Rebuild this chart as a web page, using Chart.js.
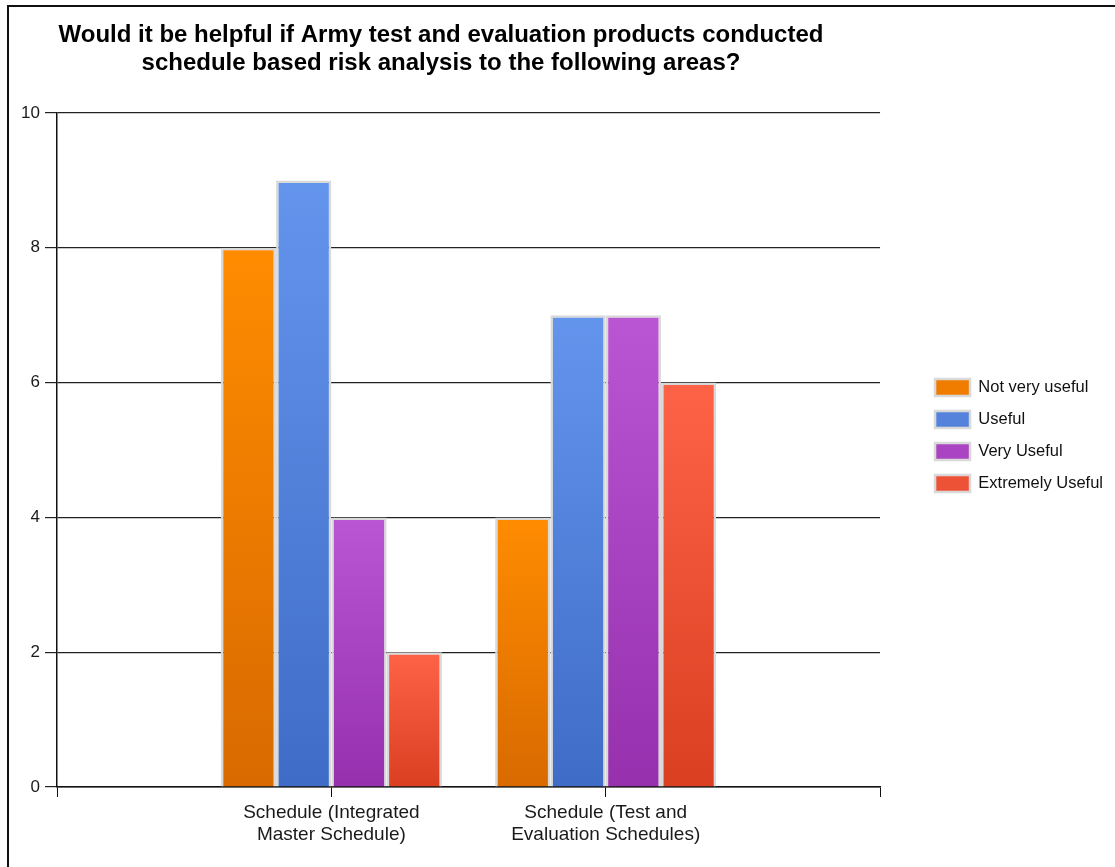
<!DOCTYPE html>
<html>
<head>
<meta charset="utf-8">
<script src="https://cdn.jsdelivr.net/npm/chart.js@4.4.1/dist/chart.umd.min.js"></script>
<style>
    html, body { margin: 0; padding: 0; background: #fff; }
    #wrap { width: 1115px; height: 867px; position: relative; }
</style>
</head>
<body>
<div id="wrap"><canvas id="usefulChart"></canvas></div>
<script>
const categories = [
    ['Schedule (Integrated', 'Master Schedule)'],
    ['Schedule (Test and', 'Evaluation Schedules)']
];
const seriesNames = ['Not very useful', 'Useful', 'Very Useful', 'Extremely Useful'];
const notVeryUseful = [8, 4];
const useful = [9, 7];
const veryUseful = [4, 7];
const extremelyUseful = [2, 6];
const titleLines = [
    'Would it be helpful if Army test and evaluation products conducted',
    'schedule based risk analysis to the following areas?'
];

// top / mid / bottom colour of each series (gradient per bar)
const seriesColors = [
    ['#ff8c00', '#f07c00', '#d86a00'],
    ['#6495ed', '#5583dc', '#3f6cc6'],
    ['#ba55d3', '#ab44c2', '#9630ad'],
    ['#ff6347', '#ee5236', '#da3f22']
];

const FONT = '"Liberation Sans", Arial, sans-serif';

// empty slot on each side so the two groups sit at 1/3 and 2/3 of the axis
const labels = [''].concat(categories, ['']);
const pad = arr => [null].concat(arr, [null]);

function barGradient(colors) {
    return ctx => {
        const chart = ctx.chart;
        if (ctx.raw == null || !chart.chartArea) return colors[1];
        const y = chart.scales.y;
        const top = y.getPixelForValue(ctx.raw);
        const bottom = y.getPixelForValue(0);
        const g = chart.ctx.createLinearGradient(0, top, 0, bottom);
        g.addColorStop(0, colors[0]);
        g.addColorStop(1, colors[2]);
        return g;
    };
}

const datasets = [notVeryUseful, useful, veryUseful, extremelyUseful].map((vals, i) => ({
    label: seriesNames[i],
    data: pad(vals),
    backgroundColor: barGradient(seriesColors[i]),
    borderColor: '#d9d9d9',
    borderWidth: 2.5,
    categoryPercentage: 0.806,
    barPercentage: 1
}));

// frame, title placement and legend gap like the original picture
const framePlugin = {
    id: 'frame',
    afterLayout(chart) {
        const t = chart.titleBlock;
        t.left = 8;
        t.right = 874;
        t.width = t.right - t.left;
        const lg = chart.legend;
        const dx = chart.chartArea.right + 40 - lg.left;
        lg.left += dx;
        lg.right += dx;
        lg.top += 2;
        lg.bottom += 2;
    },
    beforeDraw(chart) {
        const c = chart.ctx;
        c.save();
        c.fillStyle = '#fff';
        c.fillRect(0, 0, chart.width, chart.height);
        c.strokeStyle = '#111';
        c.lineWidth = 2;
        c.beginPath();
        c.moveTo(8, chart.height);
        c.lineTo(8, 6);
        c.lineTo(chart.width, 6);
        c.stroke();
        c.restore();
    }
};

new Chart(document.getElementById('usefulChart').getContext('2d'), {
    type: 'bar',
    data: {
        labels: labels,
        datasets: datasets
    },
    options: {
        responsive: true,
        maintainAspectRatio: false,
        animation: false,
        layout: {
            padding: { left: 21, right: 42, top: 0, bottom: 0 }
        },
        scales: {
            x: {
                offset: false,
                z: 1,
                grid: {
                    offset: false,
                    drawOnChartArea: false,
                    color: '#111',
                    tickLength: 10
                },
                border: { color: '#111', width: 1.5 },
                ticks: {
                    autoSkip: false,
                    maxRotation: 0,
                    padding: 5,
                    color: '#1a1a1a',
                    font: { family: FONT, size: 19, lineHeight: 1.16 }
                },
                afterFit(scale) { scale.height = 80; }
            },
            y: {
                min: 0,
                max: 10,
                grid: {
                    color: '#222',
                    lineWidth: 1.2,
                    tickLength: 12
                },
                border: { color: '#111', width: 1.5 },
                ticks: {
                    stepSize: 2,
                    padding: 5,
                    color: '#1a1a1a',
                    font: { family: FONT, size: 17 }
                },
                afterFit(scale) { scale.width = 36; }
            }
        },
        plugins: {
            title: {
                display: true,
                text: titleLines,
                fullSize: false,
                color: '#000',
                font: { family: FONT, size: 24, weight: 'bold', lineHeight: 28 / 24 },
                padding: { top: 21, bottom: 36 }
            },
            legend: {
                display: true,
                position: 'right',
                labels: {
                    boxWidth: 35,
                    boxHeight: 17,
                    padding: 15,
                    color: '#111',
                    font: { family: FONT, size: 16.5 }
                }
            },
            tooltip: { enabled: false }
        }
    },
    plugins: [framePlugin]
});
</script>
</body>
</html>
